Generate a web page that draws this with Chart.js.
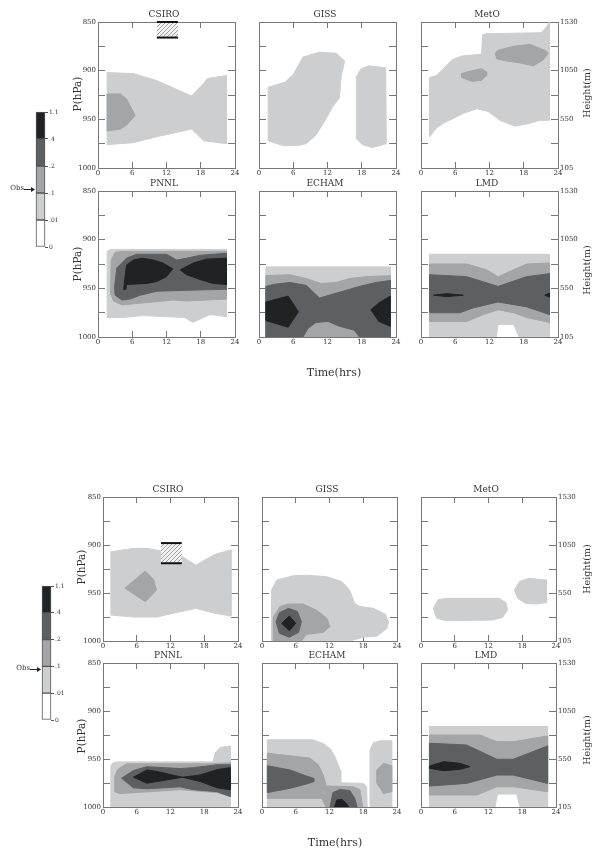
<!DOCTYPE html>
<html>
<head>
<meta charset="utf-8">
<script src="https://cdn.jsdelivr.net/npm/chart.js@4.4.0/dist/chart.umd.min.js"></script>
<style>
  body { margin: 0; background: #fff; }
  #fig { position: relative; width: 593px; height: 850px; overflow: hidden; background: #fff; }
  #fig canvas { position: absolute; }
  .lbl { position: absolute; font-family: 'DejaVu Serif', serif; color: #333; white-space: nowrap; line-height: 1; transform: translate(-50%, -50%); }
  .rot { transform: translate(-50%, -50%) rotate(-90deg); }
</style>
</head>
<body>
<div id="fig"></div>
<script>
// axis ticks and labels
const timeTicks = [0, 6, 12, 18, 24];
const pressureTicks = [850, 875, 900, 925, 950, 975, 1000];
const pressureLabels = ['850', '', '900', '', '950', '', '1000'];
const heightLabels = ['1530', '', '1050', '', '550', '', '105'];
const levelLabels = ['0', '.01', '.1', '.2', '.4', '1.1'];
const levelSegments = [1, 1, 1, 1, 1];
const obsLevel = [2.13, 1.9];

// contour regions, [time(hrs), pressure(hPa)] -- upper set
const csiroA_l1 = [[1.6,902],[6.2,903],[10.2,910],[16.4,926],[18.5,913],[19.2,908],[22.5,905],[22.5,975],[18.5,972],[16.4,960],[10.2,968],[6.2,974],[1.6,976]];
const csiroA_l2 = [[1.6,924],[3.9,924],[5.0,929],[6.5,946],[5.0,956],[3.9,960],[1.6,962]];
const csiroA_obs = [10.3, 14.0, 850, 866];

const gissA_l1a = [[1.6,917],[4.5,912],[6.0,904],[7.7,886],[10.6,881],[13.5,882],[15.0,890],[14.4,906],[14.1,928],[12.9,937],[11.5,952],[10.0,966],[8.3,975],[6.8,977],[4.2,977],[1.6,972]];
const gissA_l1b = [[17.9,898],[19.3,895],[22.2,897],[22.3,975],[19.9,979],[18.1,976],[17.1,970],[17.0,954],[17.1,906]];

const metoA_l1 = [[1.5,907],[2.7,905],[3.9,898],[5.4,889],[7.1,885],[10.6,883],[10.8,863],[11.5,862],[21.1,861],[22.0,855],[22.5,850],[22.5,951],[20.8,951],[19.1,954],[16.5,957],[13.8,951],[11.8,942],[9.8,939],[7.4,944],[5.7,949],[3.9,954],[2.7,959],[1.5,968]];
const metoA_l2a = [[7.1,903],[8.9,900],[10.6,898],[11.4,901],[11.5,905],[10.6,910],[8.9,911],[7.1,907]];
const metoA_l2b = [[13.0,882],[13.5,879],[16.2,875],[19.1,873],[21.7,879],[22.3,882],[21.4,889],[19.7,895],[17.3,892],[15.0,890],[13.3,888]];

const pnnlA_l1 = [[1.6,912],[2.2,910],[22.5,910],[22.5,979],[19.6,977],[16.6,985],[15.2,980],[7.9,978],[4.4,980],[1.6,980]];
const pnnlA_l2 = [[2.3,921],[3.0,913],[4.2,912],[22.5,912],[22.5,961],[15.5,963],[13.2,962],[7.9,965],[4.2,967],[2.7,963],[2.2,955]];
const pnnlA_l3 = [[2.9,949],[3.3,929],[5.0,919],[6.8,915],[12.0,915],[13.8,921],[15.5,919],[17.9,916],[22.5,914],[22.5,951],[15.5,952],[10.3,953],[7.4,957],[5.6,961],[4.2,962],[3.0,957]];
const pnnlA_l4a = [[5.0,926],[6.2,921],[7.7,919],[9.7,921],[11.4,924],[13.1,930],[12.0,938],[10.3,943],[8.5,945],[5.0,946],[4.9,951],[4.5,951],[4.6,945]];
const pnnlA_l4b = [[14.4,931],[16.7,924],[19.0,920],[22.5,919],[22.5,946],[20.2,945],[17.9,941],[15.5,936]];

const echamA_l1 = [[1.2,928],[23.0,928],[23.0,1000],[1.2,1000]];
const echamA_l2 = [[1.2,937],[5.4,936],[8.3,940],[10.9,945],[13.5,944],[15.8,940],[18.7,938],[23.0,937],[23.0,1000],[1.2,1000]];
const echamA_l3 = [[1.2,948],[2.5,946],[5.4,944],[8.3,947],[10.6,960],[12.3,957],[15.3,952],[17.6,948],[20.5,944],[23.0,942],[23.0,1000],[17.6,1000],[16.7,993],[14.1,989],[12.1,984],[10.0,985],[8.6,991],[7.7,1000],[1.2,1000]];
const echamA_l4a = [[1.2,964],[5.1,958],[6.9,974],[5.1,990],[1.2,983]];
const echamA_l4b = [[23.0,958],[21.0,965],[19.6,972],[21.0,984],[23.0,989]];

const lmdA_l1 = [[1.5,915],[22.5,915],[22.5,1000],[17.2,1000],[16.2,987],[13.5,987],[13.2,1000],[1.5,1000]];
const lmdA_l2 = [[1.5,925],[8.0,925],[11.5,931],[13.5,938],[16.2,931],[18.5,925],[22.5,924],[22.5,985],[18.5,980],[16.2,975],[13.5,972],[10.9,977],[8.0,984],[1.5,984]];
const lmdA_l3 = [[1.5,936],[8.0,938],[13.5,948],[18.5,938],[22.5,935],[22.5,977],[18.5,969],[13.5,964],[9.2,970],[6.8,975],[1.5,975]];
const lmdA_l4a = [[2.2,957],[4.5,955.5],[7.4,957],[4.5,958.5]];
const lmdA_l4b = [[21.7,957],[22.5,955],[22.5,959]];

// lower set
const csiroB_l1 = [[1.4,907],[5.4,903.5],[7.8,903.5],[10.2,906],[14.1,912],[16.5,921],[19.8,910],[22.75,905],[22.75,974],[19.8,971],[16.5,966],[12.6,971],[9.6,975],[5.4,975],[1.4,973]];
const csiroB_l2 = [[3.9,945],[7.5,927],[9.0,936],[9.5,947],[7.5,959]];
const csiroB_obs = [10.3, 14.0, 898, 919];

const gissB_l1 = [[1.7,947],[2.6,936.5],[5.6,932],[7.9,931.5],[11.5,933],[14.2,938],[15.6,947],[16.5,961],[17.4,964],[19.8,966],[21.9,972],[22.5,980],[22.2,987],[20.4,995],[18.0,996],[15.6,1000],[1.7,1000]];
const gissB_l2 = [[2.0,975],[3.2,964],[4.7,961.5],[7.3,961.5],[9.7,968],[11.5,976],[12.1,985],[10.9,991],[7.9,993],[7.0,1000],[2.0,1000]];
const gissB_l3 = [[2.5,980],[3.1,970.5],[4.7,966],[6.3,969.4],[7.0,980],[6.5,991],[4.85,996],[3.1,992]];
const gissB_l4 = [[3.5,981.6],[4.85,974],[6.0,981.6],[4.85,989.3]];

const metoB_l1a = [[2.2,966],[3.05,957],[4.5,955.6],[13.9,955.6],[15.1,960],[15.4,967.7],[14.5,975.4],[12.75,978.2],[4.5,978.9],[2.8,976.4]];
const metoB_l1b = [[16.6,947],[17.5,938],[19.2,934.7],[22.3,936.5],[22.3,960],[20.4,961.5],[18.6,960.8],[17.2,955.6]];

const pnnlB_l1 = [[1.4,1000],[1.4,957],[1.8,954],[2.4,953],[19.6,953],[19.9,944],[20.8,938],[22.6,936.5],[22.6,1000]];
const pnnlB_l2 = [[2.1,984],[2.1,968],[2.6,961],[4.2,955],[18.5,955],[22.6,954],[22.6,989],[20.3,985],[13.7,982],[8.4,984],[3.0,986]];
const pnnlB_l3 = [[3.3,970],[5.4,962],[7.8,958],[13.7,960],[16.1,959],[20.3,956],[22.6,956],[22.6,989],[20.3,984],[16.1,982],[13.7,979],[7.8,981],[5.4,980]];
const pnnlB_l4a = [[5.4,969],[7.8,961.4],[9.6,963],[14.1,969],[9.6,973.5],[7.8,975.2]];
const pnnlB_l4b = [[14.1,969],[17.3,966.6],[20.3,961],[22.6,959],[22.6,982],[20.3,980],[17.3,973.5]];

const echamB_l1a = [[0.95,1000],[0.95,930],[9.1,930],[10.9,934],[12.1,939],[13.0,948],[13.9,961.5],[14.0,974.7],[18.0,975.4],[18.6,979],[18.7,1000]];
const echamB_l1b = [[19.3,1000],[19.2,941],[19.8,933],[21.0,931],[23.05,931],[23.05,1000]];
const echamB_l2a = [[0.95,944],[8.5,949],[10.0,956],[10.9,967],[11.4,978],[16.2,979],[17.4,982],[17.9,1000],[11.4,1000],[10.6,991],[0.95,991]];
const echamB_l2b = [[20.4,961.5],[21.6,954.5],[23.05,957],[23.05,984],[21.6,986],[20.4,975]];
const echamB_l3a = [[0.95,957],[5.0,961.5],[7.9,967.7],[9.1,970],[9.2,973.6],[7.9,976],[5.0,980.5],[0.95,985]];
const echamB_l3b = [[12.1,1000],[12.6,985],[13.9,981.7],[15.6,983],[16.5,991],[16.9,1000]];
const echamB_l4 = [[12.9,1000],[13.3,992.7],[14.2,992],[15.1,997],[15.4,1000]];

const lmdB_l1 = [[1.5,916],[22.5,916],[22.5,1000],[17.6,1000],[17.0,986.5],[13.6,986.5],[13.15,1000],[1.5,1000]];
const lmdB_l2 = [[1.5,925],[10.5,925],[13.5,932],[16.4,932],[22.5,926],[22.5,984],[16.4,979],[13.5,979],[9.9,987.5],[1.5,987.5]];
const lmdB_l3 = [[1.5,933.6],[8.1,935.4],[13.5,950.3],[16.4,950.3],[22.5,936.4],[22.5,975.4],[16.4,966.7],[13.5,966.7],[8.1,975.4],[1.5,978.2]];
const lmdB_l4 = [[1.5,957.3],[4.0,952.8],[6.9,954.5],[8.7,958],[6.9,960.8],[4.0,962.2],[1.5,959.7]];

// panel contents: layers = [>.01, >.1, >.2, >.4]
const panelsA = [
  [{ title: 'CSIRO', layers: [[csiroA_l1], [csiroA_l2], [], []], obs: csiroA_obs },
   { title: 'GISS', layers: [[gissA_l1a, gissA_l1b], [], [], []] },
   { title: 'MetO', layers: [[metoA_l1], [metoA_l2a, metoA_l2b], [], []] }],
  [{ title: 'PNNL', layers: [[pnnlA_l1], [pnnlA_l2], [pnnlA_l3], [pnnlA_l4a, pnnlA_l4b]] },
   { title: 'ECHAM', layers: [[echamA_l1], [echamA_l2], [echamA_l3], [echamA_l4a, echamA_l4b]] },
   { title: 'LMD', layers: [[lmdA_l1], [lmdA_l2], [lmdA_l3], [lmdA_l4a, lmdA_l4b]] }]
];
const panelsB = [
  [{ title: 'CSIRO', layers: [[csiroB_l1], [csiroB_l2], [], []], obs: csiroB_obs },
   { title: 'GISS', layers: [[gissB_l1], [gissB_l2], [gissB_l3], [gissB_l4]] },
   { title: 'MetO', layers: [[metoB_l1a, metoB_l1b], [], [], []] }],
  [{ title: 'PNNL', layers: [[pnnlB_l1], [pnnlB_l2], [pnnlB_l3], [pnnlB_l4a, pnnlB_l4b]] },
   { title: 'ECHAM', layers: [[echamB_l1a, echamB_l1b], [echamB_l2a, echamB_l2b], [echamB_l3a, echamB_l3b], [echamB_l4]] },
   { title: 'LMD', layers: [[lmdB_l1], [lmdB_l2], [lmdB_l3], [lmdB_l4]] }]
];

// styling / layout
const levelColors = ['#cdcecf', '#a3a5a7', '#5d6062', '#1f2324'];
const barColors = ['#ffffff', '#cdcecf', '#a3a5a7', '#5d6062', '#1f2324'];
const axisColor = '#777';
const textColor = '#333';
const tickFont = { family: 'DejaVu Serif', size: 7 };
const ML = 40, MR = 35, MT = 16, MB = 14;

const groups = [
  { cols: [98, 259, 421], rows: [22, 191], w: 137, h: 146, panels: panelsA,
    pX: 77, pY: [94, 264], hX: 587, hY: [93, 270], tX: 334, tY: 372,
    bar: { left: 36, top: 112, bottom: 247 }, obs: obsLevel[0] },
  { cols: [103, 262, 421], rows: [497, 663], w: 135, h: 144, panels: panelsB,
    pX: 81, pY: [567, 736], hX: 587, hY: [569, 740], tX: 335, tY: 842,
    bar: { left: 42, top: 586, bottom: 720 }, obs: obsLevel[1] }
];

const fig = document.getElementById('fig');

function addCanvas(left, top, w, h) {
  const c = document.createElement('canvas');
  c.width = w; c.height = h;
  c.style.left = left + 'px'; c.style.top = top + 'px';
  c.style.width = w + 'px'; c.style.height = h + 'px';
  fig.appendChild(c);
  return c;
}

function addText(txt, x, y, size, rotate) {
  const d = document.createElement('div');
  d.className = rotate ? 'lbl rot' : 'lbl';
  d.style.left = x + 'px'; d.style.top = y + 'px';
  d.style.fontSize = size + 'px';
  d.textContent = txt;
  fig.appendChild(d);
}

// force a scale to a fixed thickness so the plot box lands where we want it
function fixSize(size) {
  return scale => {
    if (scale.isHorizontal()) scale.height = size; else scale.width = size;
    scale.paddingLeft = scale.paddingRight = scale.paddingTop = scale.paddingBottom = 0;
  };
}

function xScale(position, showLabels) {
  return {
    type: 'linear', axis: 'x', position, min: 0, max: 24, z: 1,
    afterBuildTicks: s => { s.ticks = timeTicks.map(v => ({ value: v })); },
    ticks: { autoSkip: false, maxRotation: 0, padding: 7, font: tickFont, color: textColor,
             callback: v => showLabels ? String(v) : '' },
    grid: { drawOnChartArea: false, tickLength: -6, color: axisColor },
    border: { color: axisColor },
    afterFit: fixSize(position === 'bottom' ? MB : 0)
  };
}

function yScale(position, labels) {
  return {
    type: 'linear', axis: 'y', position, min: 850, max: 1000, reverse: true, z: 1,
    afterBuildTicks: s => { s.ticks = pressureTicks.map(v => ({ value: v })); },
    ticks: { autoSkip: false, padding: 9, font: tickFont, color: textColor,
             callback: (v, i) => labels ? labels[i] : '' },
    grid: { drawOnChartArea: false, tickLength: -7, color: axisColor },
    border: { color: axisColor },
    afterFit: fixSize(position === 'left' ? ML : MR)
  };
}

function polyDataset(points, level) {
  const data = points.map(([t, p]) => ({ x: t, y: p }));
  data.push({ x: points[0][0], y: points[0][1] });
  return {
    data, showLine: true, fill: 'shape', pointRadius: 0, borderWidth: 1,
    backgroundColor: levelColors[level], borderColor: levelColors[level],
    order: 10 - level, xAxisID: 'x', yAxisID: 'y'
  };
}

// hatched observation box
const hatchTile = document.createElement('canvas');
hatchTile.width = 4; hatchTile.height = 4;
(() => {
  const g = hatchTile.getContext('2d');
  g.fillStyle = '#f2f2f2'; g.fillRect(0, 0, 4, 4);
  g.strokeStyle = '#8a8a8a'; g.lineWidth = 0.8;
  g.beginPath();
  g.moveTo(0, 4); g.lineTo(4, 0);
  g.moveTo(-1, 1); g.lineTo(1, -1);
  g.moveTo(3, 5); g.lineTo(5, 3);
  g.stroke();
})();

function obsDatasets([t0, t1, p0, p1]) {
  const edge = p => ({
    data: [{ x: t0, y: p }, { x: t1, y: p }], showLine: true, fill: false, pointRadius: 0,
    borderWidth: 2, borderColor: '#111', order: 0, clip: false, xAxisID: 'x', yAxisID: 'y'
  });
  return [
    { data: [{ x: t0, y: p0 }, { x: t1, y: p0 }, { x: t1, y: p1 }, { x: t0, y: p1 }, { x: t0, y: p0 }],
      showLine: true, fill: 'shape', pointRadius: 0, borderWidth: 0, borderColor: 'rgba(0,0,0,0)',
      backgroundColor: ctx => ctx.chart.ctx.createPattern(hatchTile, 'repeat'),
      order: 1, xAxisID: 'x', yAxisID: 'y' },
    edge(p0), edge(p1)
  ];
}

function drawPanel(group, col, row, panel) {
  const x0 = group.cols[col], y0 = group.rows[row];
  const c = addCanvas(x0 - ML, y0 - MT, ML + group.w + MR, MT + group.h + MB);
  const datasets = [];
  panel.layers.forEach((polys, level) => polys.forEach(pts => datasets.push(polyDataset(pts, level))));
  if (panel.obs) datasets.push(...obsDatasets(panel.obs));
  new Chart(c, {
    type: 'scatter',
    data: { datasets },
    options: {
      responsive: false, animation: false, devicePixelRatio: 1,
      layout: { padding: 0 },
      events: [],
      plugins: {
        legend: { display: false },
        tooltip: { enabled: false },
        title: { display: true, text: panel.title, color: textColor,
                 font: { family: 'DejaVu Serif', size: 9, weight: 'normal' },
                 padding: { top: 3.7, bottom: 1.5 } }
      },
      scales: {
        x: xScale('bottom', true),
        x2: xScale('top', false),
        y: yScale('left', col === 0 ? pressureLabels : null),
        y2: yScale('right', col === 2 ? heightLabels : null)
      }
    }
  });
}

const obsArrow = {
  id: 'obsArrow',
  afterDraw(chart, args, opts) {
    const { ctx, chartArea } = chart;
    const y = Math.round(chart.scales.y.getPixelForValue(opts.level)) + 0.5;
    const x1 = chartArea.left - 1, x0 = x1 - 11;
    ctx.save();
    ctx.strokeStyle = '#222'; ctx.fillStyle = '#222'; ctx.lineWidth = 1;
    ctx.beginPath(); ctx.moveTo(x0, y); ctx.lineTo(x1 - 3, y); ctx.stroke();
    ctx.beginPath(); ctx.moveTo(x1, y); ctx.lineTo(x1 - 4, y - 2.5); ctx.lineTo(x1 - 4, y + 2.5); ctx.closePath(); ctx.fill();
    ctx.fillStyle = textColor;
    ctx.font = '7px "DejaVu Serif"';
    ctx.textAlign = 'right'; ctx.textBaseline = 'alphabetic';
    ctx.fillText('Obs', x0, y);
    ctx.restore();
  }
};

function drawColorbar(bar, level) {
  const W = 80, pad = 6, bw = 9;
  const c = addCanvas(0, bar.top - pad, W, bar.bottom - bar.top + 2 * pad);
  new Chart(c, {
    type: 'bar',
    data: {
      labels: ['scale'],
      datasets: levelSegments.map((v, i) => ({
        data: [v], backgroundColor: barColors[i], borderColor: '#555', borderWidth: 1,
        borderSkipped: false, barPercentage: 1, categoryPercentage: 1, clip: false
      }))
    },
    options: {
      responsive: false, animation: false, devicePixelRatio: 1, events: [],
      layout: { padding: { left: bar.left, top: pad, bottom: pad, right: 0 } },
      plugins: { legend: { display: false }, tooltip: { enabled: false }, obsArrow: { level } },
      scales: {
        x: { display: false, stacked: true },
        y: {
          stacked: true, position: 'right', min: 0, max: 5,
          afterBuildTicks: s => { s.ticks = levelLabels.map((l, i) => ({ value: i })); },
          ticks: { autoSkip: false, padding: 1, color: textColor, font: { family: 'DejaVu Serif', size: 6 },
                   callback: (v, i) => levelLabels[i] },
          grid: { drawOnChartArea: false, tickLength: 3, color: '#555' },
          border: { display: false },
          afterFit: s => { s.width = W - bar.left - bw; s.paddingTop = s.paddingBottom = 0; }
        }
      }
    },
    plugins: [obsArrow]
  });
}

groups.forEach(g => {
  g.panels.forEach((rowPanels, r) => rowPanels.forEach((p, c) => drawPanel(g, c, r, p)));
  drawColorbar(g.bar, g.obs);
  g.pY.forEach(y => addText('P(hPa)', g.pX, y, 10.5, true));
  g.hY.forEach(y => addText('Height(m)', g.hX, y, 9.5, true));
  addText('Time(hrs)', g.tX, g.tY, 11, false);
});
</script>
</body>
</html>
